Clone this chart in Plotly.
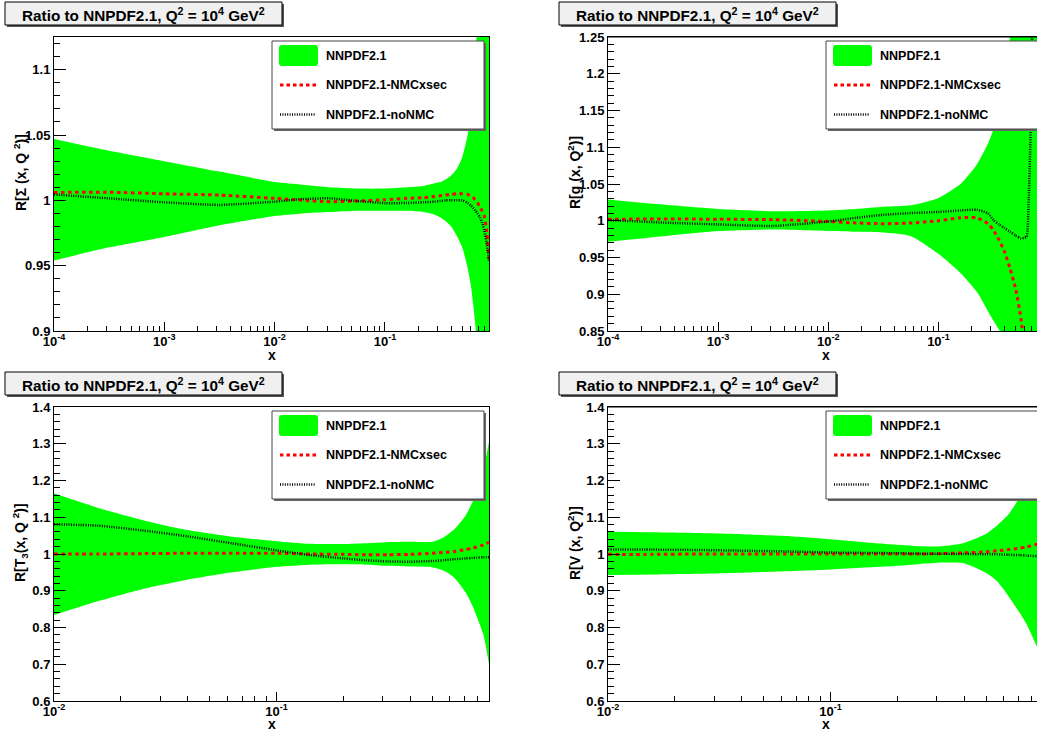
import plotly.graph_objects as go

W, H = 1037, 732
FONT = "Liberation Sans, Arial, Helvetica, sans-serif"

# ---------------- data ----------------
TOP_X = [1e-4, 3.162e-4, 1e-3, 3.162e-3, 1e-2, 0.01778, 0.03162, 0.05623, 0.1,
         0.1585, 0.2239, 0.2818, 0.3162, 0.3548, 0.3981, 0.4467, 0.5012, 0.5623,
         0.6026, 0.6310, 0.6607, 0.6918, 0.7244, 0.7586, 0.7943, 0.8318, 0.8770]

SIGMA_HI = [1.047, 1.038, 1.030, 1.022, 1.014, 1.012, 1.010, 1.009, 1.009, 1.010,
            1.011, 1.013, 1.014, 1.016, 1.019, 1.024, 1.033, 1.050, 1.068, 1.085,
            1.11, 1.14, 1.17, 1.21, 1.25, 1.30, 1.36]
SIGMA_LO = [0.954, 0.964, 0.972, 0.981, 0.988, 0.990, 0.991, 0.992, 0.992, 0.992,
            0.991, 0.989, 0.987, 0.984, 0.980, 0.973, 0.964, 0.948, 0.934, 0.920,
            0.904, 0.885, 0.865, 0.84, 0.81, 0.78, 0.74]
SIGMA_NMC = [1.006, 1.0062, 1.005, 1.004, 1.0015, 1.0, 0.999, 0.9995, 1.0005, 1.0015,
             1.002, 1.003, 1.0035, 1.004, 1.0045, 1.005, 1.005, 1.0045, 1.003, 1.002,
             1.0, 0.998, 0.995, 0.992, 0.988, 0.978, 0.955]
SIGMA_NONMC = [1.0045, 1.0015, 0.9985, 0.9965, 0.999, 1.001, 1.0015, 0.9995, 0.9978, 0.998,
               0.9985, 0.999, 0.9995, 1.0, 1.0, 1.0, 1.0, 0.998, 0.996, 0.994,
               0.992, 0.990, 0.987, 0.983, 0.977, 0.968, 0.954]

G_HI = [1.029, 1.022, 1.016, 1.013, 1.014, 1.016, 1.019, 1.021, 1.031, 1.05,
        1.077, 1.105, 1.125, 1.16, 1.20, 1.25, 1.32, 1.40, 1.45, 1.48,
        1.52, 1.56, 1.60, 1.64, 1.68, 1.72, 1.77]
G_LO = [0.9715, 0.979, 0.986, 0.988, 0.986, 0.985, 0.984, 0.979, 0.955, 0.929,
        0.903, 0.877, 0.864, 0.852, 0.838, 0.82, 0.80, 0.78, 0.77, 0.76,
        0.75, 0.74, 0.73, 0.72, 0.71, 0.70, 0.69]
G_NMC = [1.002, 1.0025, 1.002, 1.0015, 0.999, 0.997, 0.996, 0.997, 1.0, 1.004,
         1.004, 0.996, 0.987, 0.974, 0.958, 0.935, 0.908, 0.866, 0.825, 0.79,
         0.76, 0.73, 0.70, 0.68, 0.66, 0.64, 0.62]
G_NONMC = [1.001, 0.9975, 0.995, 0.993, 0.999, 1.004, 1.008, 1.0105, 1.012, 1.014,
           1.015, 1.010, 1.001, 0.995, 0.990, 0.985, 0.980, 0.976, 0.977, 0.978,
           1.03, 1.14, 1.35, 1.5, 1.6, 1.65, 1.7]

BOT_X = [0.01, 0.01585, 0.02512, 0.03981, 0.0631, 0.1, 0.1413, 0.1995, 0.2512, 0.3162,
         0.3981, 0.5012, 0.5623, 0.6310, 0.7079, 0.7586, 0.7943, 0.8511, 0.9016]

T3_HI = [1.165, 1.125, 1.092, 1.065, 1.047, 1.035, 1.028, 1.027, 1.029, 1.032,
         1.033, 1.033, 1.045, 1.068, 1.105, 1.14, 1.17, 1.23, 1.305]
T3_LO = [0.834, 0.872, 0.905, 0.930, 0.950, 0.965, 0.971, 0.972, 0.971, 0.968,
         0.966, 0.964, 0.955, 0.935, 0.895, 0.86, 0.83, 0.78, 0.70]
T3_NMC = [1.0, 1.0, 1.001, 1.002, 1.002, 1.002, 1.0, 0.999, 0.998, 0.998,
          0.999, 1.002, 1.004, 1.007, 1.012, 1.016, 1.019, 1.025, 1.032]
T3_NONMC = [1.081, 1.077, 1.064, 1.048, 1.029, 1.010, 0.997, 0.988, 0.983, 0.980,
            0.979, 0.981, 0.983, 0.986, 0.988, 0.989, 0.990, 0.991, 0.991]

V_HI = [1.061, 1.059, 1.057, 1.054, 1.049, 1.040, 1.032, 1.025, 1.021, 1.021,
        1.030, 1.055, 1.078, 1.108, 1.155, 1.20, 1.24, 1.32, 1.38]
V_LO = [0.943, 0.944, 0.946, 0.949, 0.953, 0.958, 0.963, 0.968, 0.973, 0.977,
        0.975, 0.948, 0.925, 0.885, 0.840, 0.810, 0.785, 0.745, 0.71]
V_NMC = [0.999, 0.999, 1.0, 1.0, 1.0, 1.0, 1.0, 1.0, 1.0, 1.001,
         1.003, 1.006, 1.009, 1.012, 1.016, 1.019, 1.022, 1.027, 1.030]
V_NONMC = [1.0125, 1.012, 1.011, 1.009, 1.007, 1.004, 1.003, 1.002, 1.001, 1.0005,
           1.0, 0.999, 0.999, 0.998, 0.997, 0.996, 0.995, 0.994, 0.993]

Y_TICKS_SIGMA = [0.9, 0.95, 1.0, 1.05, 1.1]
Y_LABELS_SIGMA = ["0.9", "0.95", "1", "1.05", "1.1"]
Y_TICKS_G = [0.85, 0.9, 0.95, 1.0, 1.05, 1.1, 1.15, 1.2, 1.25]
Y_LABELS_G = ["0.85", "0.9", "0.95", "1", "1.05", "1.1", "1.15", "1.2", "1.25"]
Y_TICKS_BOT = [0.6, 0.7, 0.8, 0.9, 1.0, 1.1, 1.2, 1.3, 1.4]
Y_LABELS_BOT = ["0.6", "0.7", "0.8", "0.9", "1", "1.1", "1.2", "1.3", "1.4"]
X_TICKS_TOP = [1e-4, 1e-3, 1e-2, 1e-1]
X_LABELS_TOP = ["10<sup>-4</sup>", "10<sup>-3</sup>", "10<sup>-2</sup>", "10<sup>-1</sup>"]
X_TICKS_BOT = [1e-2, 1e-1]
X_LABELS_BOT = ["10<sup>-2</sup>", "10<sup>-1</sup>"]

LEGEND_NAMES = ["NNPDF2.1", "NNPDF2.1-NMCxsec", "NNPDF2.1-noNMC"]
TITLE_TEXT = "Ratio to NNPDF2.1, Q<sup>2</sup> = 10<sup>4</sup> GeV<sup>2</sup>"

GREEN = "#00ff00"
RED = "#ff0000"

panels = [
    dict(dx=0, dy=0, x=TOP_X, hi=SIGMA_HI, lo=SIGMA_LO, nmc=SIGMA_NMC, nonmc=SIGMA_NONMC,
         xr=[-4, -0.057], yr=[0.9, 1.125], yt=Y_TICKS_SIGMA, yl=Y_LABELS_SIGMA, ymin=0.01,
         xt=X_TICKS_TOP, xl=X_LABELS_TOP, decades=range(-4, 0),
         ytitle="R[Σ (x, Q <sup>2</sup>)]", right=False),
    dict(dx=554, dy=0, x=TOP_X, hi=G_HI, lo=G_LO, nmc=G_NMC, nonmc=G_NONMC,
         xr=[-4, -0.105], yr=[0.85, 1.25], yt=Y_TICKS_G, yl=Y_LABELS_G, ymin=0.01,
         xt=X_TICKS_TOP, xl=X_LABELS_TOP, decades=range(-4, 0),
         ytitle="R[g (x, Q<sup>2</sup>)]", right=True),
    dict(dx=0, dy=370, x=BOT_X, hi=T3_HI, lo=T3_LO, nmc=T3_NMC, nonmc=T3_NONMC,
         xr=[-2, -0.045], yr=[0.6, 1.4], yt=Y_TICKS_BOT, yl=Y_LABELS_BOT, ymin=0.02,
         xt=X_TICKS_BOT, xl=X_LABELS_BOT, decades=range(-2, 0),
         ytitle="R[T<sub>3</sub>(x, Q <sup>2</sup>)]", right=False),
    dict(dx=554, dy=370, x=BOT_X, hi=V_HI, lo=V_LO, nmc=V_NMC, nonmc=V_NONMC,
         xr=[-2, -0.072], yr=[0.6, 1.4], yt=Y_TICKS_BOT, yl=Y_LABELS_BOT, ymin=0.02,
         xt=X_TICKS_BOT, xl=X_LABELS_BOT, decades=range(-2, 0),
         ytitle="R[V (x, Q<sup>2</sup>)]", right=True),
]


def px(x):
    return x / W


def py(y):
    return 1 - y / H


def rounded_path(x0, y0, x1, y1, r):
    pts = [
        f"M{px(x0 + r)},{py(y0)}",
        f"L{px(x1 - r)},{py(y0)}",
        f"Q{px(x1)},{py(y0)} {px(x1)},{py(y0 + r)}",
        f"L{px(x1)},{py(y1 - r)}",
        f"Q{px(x1)},{py(y1)} {px(x1 - r)},{py(y1)}",
        f"L{px(x0 + r)},{py(y1)}",
        f"Q{px(x0)},{py(y1)} {px(x0)},{py(y1 - r)}",
        f"L{px(x0)},{py(y0 + r)}",
        f"Q{px(x0)},{py(y0)} {px(x0 + r)},{py(y0)}",
        "Z",
    ]
    return " ".join(pts)


fig = go.Figure()
shapes = []
annotations = []
layout = {}

PLOT_L, PLOT_R, PLOT_T, PLOT_B = 54, 489, 37, 331
BLACK_DASH = "1px,1.4px"

for i, p in enumerate(panels):
    n = i + 1
    xa = "x" if n == 1 else f"x{n}"
    ya = "y" if n == 1 else f"y{n}"
    dx, dy = p["dx"], p["dy"]
    left = PLOT_L + dx
    right = min(PLOT_R + dx, W)
    top = PLOT_T + dy
    bottom = PLOT_B + dy

    common = dict(mode="lines", xaxis=xa, yaxis=ya, showlegend=False, hoverinfo="skip")
    fig.add_trace(go.Scatter(x=p["x"], y=p["lo"], line=dict(width=0, color=GREEN, shape="spline", smoothing=0.6), **common))
    fig.add_trace(go.Scatter(x=p["x"], y=p["hi"], fill="tonexty", fillcolor=GREEN,
                             line=dict(width=0, color=GREEN, shape="spline", smoothing=0.6), name=LEGEND_NAMES[0], **common))
    fig.add_trace(go.Scatter(x=p["x"], y=p["nmc"], name=LEGEND_NAMES[1],
                             line=dict(color=RED, width=3, dash="3.5px,3.5px", shape="spline", smoothing=0.6), **common))
    fig.add_trace(go.Scatter(x=p["x"], y=p["nonmc"], name=LEGEND_NAMES[2],
                             line=dict(color="black", width=2.5, dash=BLACK_DASH, shape="spline", smoothing=0.6), **common))

    minor_x = [k * 10.0 ** d for d in p["decades"] for k in range(2, 10)]
    minor_x = [v for v in minor_x if v <= 10 ** p["xr"][1]]
    ny = int(round((p["yr"][1] - p["yr"][0]) / p["ymin"]))
    minor_y = [round(p["yr"][0] + k * p["ymin"], 4) for k in range(ny + 1)]

    xkey = "xaxis" if n == 1 else f"xaxis{n}"
    ykey = "yaxis" if n == 1 else f"yaxis{n}"
    layout[xkey] = dict(
        type="log", range=p["xr"], domain=[px(left), px(right)], anchor=ya,
        automargin=False,
        showline=True, linecolor="black", linewidth=1, mirror=True,
        ticks="inside", ticklen=9, tickwidth=1, tickcolor="black",
        ticklabelstandoff=-2,
        tickmode="array", tickvals=p["xt"], ticktext=p["xl"],
        minor=dict(tickmode="array", tickvals=minor_x, ticks="inside", ticklen=5,
                   tickwidth=1, tickcolor="black", showgrid=False),
        showgrid=False, zeroline=False,
        tickfont=dict(family=FONT, size=13, color="black", weight="bold"),
    )
    layout[ykey] = dict(
        range=p["yr"], domain=[py(bottom), py(top)], anchor=xa,
        automargin=False,
        showline=True, linecolor="black", linewidth=1, mirror=not p["right"],
        ticks="inside", ticklen=12, tickwidth=1, tickcolor="black",
        tickmode="array", tickvals=p["yt"], ticktext=p["yl"],
        minor=dict(tickmode="array", tickvals=minor_y, ticks="inside", ticklen=6,
                   tickwidth=1, tickcolor="black", showgrid=False),
        showgrid=False, zeroline=False,
        tickfont=dict(family=FONT, size=13, color="black", weight="bold"),
    )
    if p["right"]:
        shapes.append(dict(type="line", xref="paper", yref="paper", layer="above",
                           x0=px(left), x1=1.0, y0=py(top), y1=py(top),
                           line=dict(color="black", width=1)))

    # axis titles
    annotations.append(dict(text="x", xref="paper", yref="paper", x=px((PLOT_L + PLOT_R) / 2 + dx),
                            y=py((355 if dy == 0 else 354) + dy), xanchor="center", yanchor="middle",
                            showarrow=False,
                            font=dict(family=FONT, size=14, color="black", weight="bold")))
    annotations.append(dict(text=p["ytitle"], xref="paper", yref="paper", x=px(20 + dx),
                            y=py(173 + dy), xanchor="center", yanchor="middle", showarrow=False,
                            textangle=-90,
                            font=dict(family=FONT, size=14, color="black", weight="bold")))

    # title pave
    shapes.append(dict(type="rect", xref="paper", yref="paper", layer="above",
                       x0=px(7 + dx), x1=px(284 + dx), y0=py(4 + dy), y1=py(27 + dy),
                       fillcolor="#555555", line=dict(width=0)))
    shapes.append(dict(type="rect", xref="paper", yref="paper", layer="above",
                       x0=px(5 + dx), x1=px(282 + dx), y0=py(2 + dy), y1=py(25 + dy),
                       fillcolor="#f0f0f0", line=dict(color="black", width=1)))
    annotations.append(dict(text=TITLE_TEXT, xref="paper", yref="paper", x=px(143.5 + dx),
                            y=py(14 + dy), xanchor="center", yanchor="middle", showarrow=False,
                            font=dict(family=FONT, size=15.3, color="black", weight="bold")))

    # legend box
    lx0, ly0, lx1, ly1 = 272 + dx, 41 + dy, 484 + dx, 129 + dy
    shapes.append(dict(type="rect", xref="paper", yref="paper", layer="above",
                       x0=px(lx0 + 2), x1=px(lx1 + 2), y0=py(ly0 + 2), y1=py(ly1 + 2),
                       fillcolor="#666666", line=dict(width=0)))
    shapes.append(dict(type="rect", xref="paper", yref="paper", layer="above",
                       x0=px(lx0), x1=px(lx1), y0=py(ly0), y1=py(ly1),
                       fillcolor="white", line=dict(color="#444444", width=1)))
    shapes.append(dict(type="path", xref="paper", yref="paper", layer="above",
                       path=rounded_path(279 + dx, 45 + dy, 318 + dx, 66 + dy, 3),
                       fillcolor=GREEN, line=dict(width=0)))
    shapes.append(dict(type="line", xref="paper", yref="paper", layer="above",
                       x0=px(280 + dx), x1=px(318 + dx), y0=py(85 + dy), y1=py(85 + dy),
                       line=dict(color=RED, width=3, dash="3.5px,3px")))
    shapes.append(dict(type="line", xref="paper", yref="paper", layer="above",
                       x0=px(280 + dx), x1=px(316 + dx), y0=py(114.5 + dy), y1=py(114.5 + dy),
                       line=dict(color="black", width=2.5, dash=BLACK_DASH)))
    for k, ty in enumerate([56, 85, 115]):
        annotations.append(dict(text=LEGEND_NAMES[k], xref="paper", yref="paper", x=px(324 + dx),
                                y=py(ty + dy), xanchor="left", yanchor="middle", showarrow=False,
                                font=dict(family=FONT, size=12.5, color="black", weight="bold")))

fig.update_layout(
    template="none",
    width=W, height=H,
    margin=dict(l=0, r=0, t=0, b=0, pad=0),
    paper_bgcolor="white", plot_bgcolor="white",
    showlegend=False,
    shapes=shapes, annotations=annotations,
    **layout,
)

fig.write_html(
    "out.html",
    config={"displayModeBar": False},
    post_script="document.body.style.margin='0px';document.body.style.overflow='hidden';",
)
